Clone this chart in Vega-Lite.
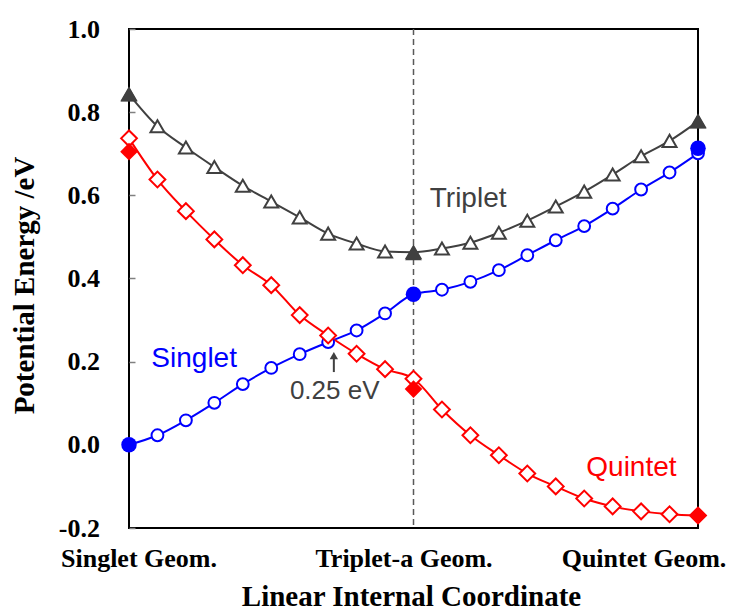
{
  "$schema": "https://vega.github.io/schema/vega-lite/v6.json",
  "width": 569,
  "height": 499,
  "autosize": {"type": "none"},
  "padding": {"left": 129, "top": 29, "right": 35, "bottom": 82},
  "background": "white",
  "config": {
    "view": {"stroke": "black", "strokeWidth": 2},
    "axis": {"domain": false, "grid": false}
  },
  "datasets": {
    "vline": [{"x": 10}],
    "arrow": [{"x": 7.2, "e": 0.175, "e2": 0.211, "tip": 0.2145}],
    "notes": [
      {"label": "Triplet", "x": 11.92, "e": 0.572},
      {"label": "Singlet", "x": 2.29, "e": 0.187},
      {"label": "Quintet", "x": 17.66, "e": -0.076},
      {"label": "0.25 eV", "x": 7.23, "e": 0.111}
    ],
    "scan": [
      {"state": "Singlet", "x": 0, "e": 0.0},
      {"state": "Singlet", "x": 1, "e": 0.023},
      {"state": "Singlet", "x": 2, "e": 0.059},
      {"state": "Singlet", "x": 3, "e": 0.101},
      {"state": "Singlet", "x": 4, "e": 0.146},
      {"state": "Singlet", "x": 5, "e": 0.185},
      {"state": "Singlet", "x": 6, "e": 0.218},
      {"state": "Singlet", "x": 7, "e": 0.247},
      {"state": "Singlet", "x": 8, "e": 0.275},
      {"state": "Singlet", "x": 9, "e": 0.316},
      {"state": "Singlet", "x": 10, "e": 0.362},
      {"state": "Singlet", "x": 11, "e": 0.373},
      {"state": "Singlet", "x": 12, "e": 0.392},
      {"state": "Singlet", "x": 13, "e": 0.42},
      {"state": "Singlet", "x": 14, "e": 0.456},
      {"state": "Singlet", "x": 15, "e": 0.492},
      {"state": "Singlet", "x": 16, "e": 0.526},
      {"state": "Singlet", "x": 17, "e": 0.568},
      {"state": "Singlet", "x": 18, "e": 0.614},
      {"state": "Singlet", "x": 19, "e": 0.655},
      {"state": "Singlet", "x": 20, "e": 0.701},
      {"state": "Triplet", "x": 0, "e": 0.843},
      {"state": "Triplet", "x": 1, "e": 0.766},
      {"state": "Triplet", "x": 2, "e": 0.715},
      {"state": "Triplet", "x": 3, "e": 0.668},
      {"state": "Triplet", "x": 4, "e": 0.623},
      {"state": "Triplet", "x": 5, "e": 0.585},
      {"state": "Triplet", "x": 6, "e": 0.547},
      {"state": "Triplet", "x": 7, "e": 0.508},
      {"state": "Triplet", "x": 8, "e": 0.484},
      {"state": "Triplet", "x": 9, "e": 0.465},
      {"state": "Triplet", "x": 10, "e": 0.463},
      {"state": "Triplet", "x": 11, "e": 0.472},
      {"state": "Triplet", "x": 12, "e": 0.486},
      {"state": "Triplet", "x": 13, "e": 0.51},
      {"state": "Triplet", "x": 14, "e": 0.539},
      {"state": "Triplet", "x": 15, "e": 0.573},
      {"state": "Triplet", "x": 16, "e": 0.609},
      {"state": "Triplet", "x": 17, "e": 0.65},
      {"state": "Triplet", "x": 18, "e": 0.694},
      {"state": "Triplet", "x": 19, "e": 0.731},
      {"state": "Triplet", "x": 20, "e": 0.778},
      {"state": "Quintet", "x": 0, "e": 0.737},
      {"state": "Quintet", "x": 1, "e": 0.638},
      {"state": "Quintet", "x": 2, "e": 0.562},
      {"state": "Quintet", "x": 3, "e": 0.494},
      {"state": "Quintet", "x": 4, "e": 0.432},
      {"state": "Quintet", "x": 5, "e": 0.384},
      {"state": "Quintet", "x": 6, "e": 0.312},
      {"state": "Quintet", "x": 7, "e": 0.263},
      {"state": "Quintet", "x": 8, "e": 0.219},
      {"state": "Quintet", "x": 9, "e": 0.182},
      {"state": "Quintet", "x": 10, "e": 0.159},
      {"state": "Quintet", "x": 11, "e": 0.085},
      {"state": "Quintet", "x": 12, "e": 0.023},
      {"state": "Quintet", "x": 13, "e": -0.025},
      {"state": "Quintet", "x": 14, "e": -0.069},
      {"state": "Quintet", "x": 15, "e": -0.1},
      {"state": "Quintet", "x": 16, "e": -0.129},
      {"state": "Quintet", "x": 17, "e": -0.148},
      {"state": "Quintet", "x": 18, "e": -0.16},
      {"state": "Quintet", "x": 19, "e": -0.167},
      {"state": "Quintet", "x": 20, "e": -0.17}
    ],
    "opt": [
      {"state": "Singlet", "x": 0, "e": 0.0},
      {"state": "Singlet", "x": 10, "e": 0.362},
      {"state": "Singlet", "x": 20, "e": 0.713},
      {"state": "Triplet", "x": 0, "e": 0.843},
      {"state": "Triplet", "x": 10, "e": 0.461},
      {"state": "Triplet", "x": 20, "e": 0.778},
      {"state": "Quintet", "x": 0, "e": 0.705},
      {"state": "Quintet", "x": 10, "e": 0.134},
      {"state": "Quintet", "x": 20, "e": -0.17}
    ]
  },
  "encoding": {
    "x": {
      "field": "x",
      "type": "quantitative",
      "scale": {"domain": [0, 20], "nice": false, "zero": false},
      "axis": {
        "title": "Linear Internal Coordinate",
        "values": [0, 10, 20],
        "labelExpr": "datum.value == 0 ? 'Singlet Geom.' : datum.value == 10 ? 'Triplet-a Geom.' : 'Quintet Geom.'",
        "ticks": false,
        "labelPadding": 38.7,
        "labelBaseline": "alphabetic",
        "labelAlign": "center",
        "labelOffset": {"condition": [{"test": "datum.value == 0", "value": 9.5}, {"test": "datum.value == 20", "value": -54.5}], "value": -10},
        "labelFont": "Liberation Serif",
        "labelFontWeight": "bold",
        "labelFontSize": 26,
        "labelColor": "black",
        "labelOverlap": false,
        "labelBound": false,
        "labelFlush": false,
        "titleFont": "Liberation Serif",
        "titleFontWeight": "bold",
        "titleFontSize": 29,
        "titleColor": "black",
        "titleBaseline": "alphabetic",
        "titleX": 282,
        "titleY": 77,
        "titleAlign": "center"
      }
    },
    "y": {
      "field": "e",
      "type": "quantitative",
      "scale": {"domain": [-0.2, 1.0], "nice": false, "zero": false},
      "axis": {
        "title": "Potential Energy /eV",
        "values": [-0.2, 0, 0.2, 0.4, 0.6, 0.8, 1.0],
        "labelExpr": "datum.value < 0 ? '-' + format(-datum.value, '.1f') : format(datum.value, '.1f')",
        "tickSize": -6,
        "tickColor": "#808080",
        "tickWidth": 1.5,
        "labelPadding": 35.5,
        "labelFont": "Liberation Serif",
        "labelFontWeight": "bold",
        "labelFontSize": 26,
        "labelColor": "black",
        "labelAlign": "right",
        "labelBaseline": "middle",
        "labelOverlap": false,
        "labelBound": false,
        "labelFlush": false,
        "titleFont": "Liberation Serif",
        "titleFontWeight": "bold",
        "titleFontSize": 29,
        "titleColor": "black",
        "titleAngle": -90,
        "titleBaseline": "alphabetic",
        "titleAlign": "center",
        "titleX": -95.5,
        "titleY": 256
      }
    }
  },
  "layer": [
    {
      "data": {"name": "vline"},
      "mark": {"type": "rule", "color": "#595959", "strokeWidth": 1.5, "strokeDash": [6, 4]},
      "encoding": {"y": null}
    },
    {
      "data": {"name": "scan"},
      "mark": {"type": "line", "interpolate": "monotone", "strokeWidth": 2},
      "encoding": {
        "color": {"field": "state", "type": "nominal", "scale": {"domain": ["Singlet", "Triplet", "Quintet"], "range": ["#0000ff", "#404040", "#ff0000"]}, "legend": null},
        "detail": {"field": "state"}
      }
    },
    {
      "data": {"name": "scan"},
      "mark": {"type": "point", "filled": true, "fill": "white", "strokeWidth": 2, "opacity": 1},
      "encoding": {
        "stroke": {"field": "state", "type": "nominal", "scale": {"domain": ["Singlet", "Triplet", "Quintet"], "range": ["#0000ff", "#404040", "#ff0000"]}, "legend": null},
        "shape": {"field": "state", "type": "nominal", "scale": {"domain": ["Singlet", "Triplet", "Quintet"], "range": ["circle", "triangle-up", "diamond"]}, "legend": null},
        "size": {"field": "state", "type": "nominal", "scale": {"domain": ["Singlet", "Triplet", "Quintet"], "range": [140, 250, 210]}, "legend": null}
      }
    },
    {
      "data": {"name": "opt"},
      "mark": {"type": "point", "filled": true, "opacity": 1},
      "encoding": {
        "color": {"field": "state", "type": "nominal", "legend": null},
        "shape": {"field": "state", "type": "nominal", "legend": null},
        "size": {"field": "state", "type": "nominal", "scale": {"domain": ["Singlet", "Triplet", "Quintet"], "range": [240, 310, 280]}, "legend": null}
      }
    },
    {
      "data": {"name": "arrow"},
      "mark": {"type": "rule", "color": "#404040", "strokeWidth": 2},
      "encoding": {
        "y2": {"field": "e2"}
      }
    },
    {
      "data": {"name": "arrow"},
      "mark": {"type": "point", "shape": "triangle-up", "filled": true, "color": "#404040", "size": 70, "opacity": 1},
      "encoding": {
        "y": {"field": "tip", "type": "quantitative"}
      }
    },
    {
      "data": {"name": "notes"},
      "transform": [{"filter": "datum.label == '0.25 eV'"}],
      "mark": {"type": "text", "font": "Liberation Sans", "fontSize": 26, "color": "#404040", "align": "center", "baseline": "alphabetic"},
      "encoding": {"text": {"field": "label"}}
    },
    {
      "data": {"name": "notes"},
      "transform": [{"filter": "datum.label == 'Triplet'"}],
      "mark": {"type": "text", "font": "Liberation Sans", "fontSize": 28, "color": "#404040", "align": "center", "baseline": "alphabetic"},
      "encoding": {"text": {"field": "label"}}
    },
    {
      "data": {"name": "notes"},
      "transform": [{"filter": "datum.label == 'Singlet'"}],
      "mark": {"type": "text", "font": "Liberation Sans", "fontSize": 28, "color": "#0000ff", "align": "center", "baseline": "alphabetic"},
      "encoding": {"text": {"field": "label"}}
    },
    {
      "data": {"name": "notes"},
      "transform": [{"filter": "datum.label == 'Quintet'"}],
      "mark": {"type": "text", "font": "Liberation Sans", "fontSize": 28, "color": "#ff0000", "align": "center", "baseline": "alphabetic"},
      "encoding": {"text": {"field": "label"}}
    }
  ],
  "resolve": {"scale": {"size": "independent"}}
}
